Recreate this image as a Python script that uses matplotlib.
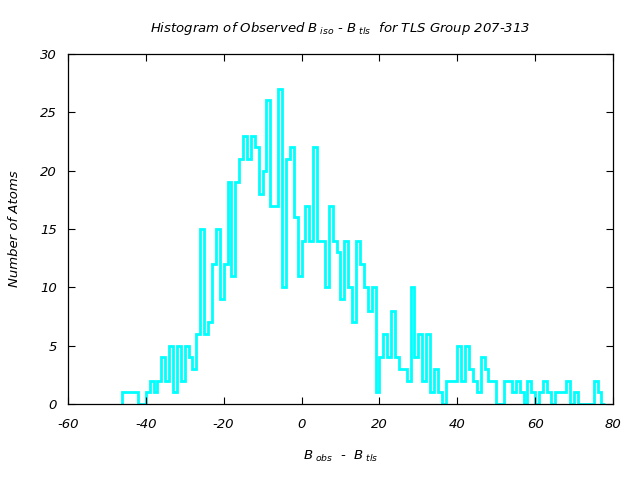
import numpy as np
import matplotlib
matplotlib.use("Agg")
import matplotlib.pyplot as plt

# histogram counts, one per 1-unit bin, left edges from -46 upward
bin_start = -46
counts = [1, 1, 1, 1, 0, 0, 1, 2, 1, 2, 4, 2, 5, 1, 5, 2, 5, 4, 3, 6,
          15, 6, 7, 12, 15, 9, 12, 19, 11, 19, 21, 23, 21, 23, 22, 18, 20, 26, 17, 17,
          27, 10, 21, 22, 16, 11, 14, 17, 14, 22, 14, 14, 10, 17, 14, 13, 9, 14, 10, 7,
          14, 12, 10, 8, 10, 1, 4, 6, 4, 8, 4, 3, 3, 2, 10, 4, 6, 2, 6, 1,
          3, 1, 0, 2, 2, 2, 5, 2, 5, 3, 2, 1, 4, 3, 2, 2, 0, 0, 2, 2,
          1, 2, 1, 0, 2, 1, 0, 1, 2, 1, 0, 1, 1, 1, 2, 0, 1, 0, 0, 0,
          0, 2, 1, 0]
x_ticks = [-60, -40, -20, 0, 20, 40, 60, 80]
y_ticks = [0, 5, 10, 15, 20, 25, 30]

plt.rcParams['axes.unicode_minus'] = False
plt.rcParams['font.family'] = 'DejaVu Sans'
plt.rcParams['font.style'] = 'italic'
plt.rcParams['mathtext.fontset'] = 'custom'
plt.rcParams['mathtext.it'] = 'DejaVu Sans:italic'
plt.rcParams['mathtext.rm'] = 'DejaVu Sans:italic'

edges = np.arange(bin_start, bin_start + len(counts) + 1)

fig = plt.figure(figsize=(6.4, 4.8), dpi=100)
ax = fig.add_axes([0.106, 0.158, 0.852, 0.730])

ax.stairs(counts, edges, baseline=0, color="#00ffff", linewidth=2.0)

ax.set_xlim(-60, 80)
ax.set_ylim(0, 30)
ax.set_xticks(x_ticks)
ax.set_yticks(y_ticks)
ax.tick_params(direction='in', top=True, right=True, length=5, width=0.8,
               labelsize=9.5)
ax.tick_params(axis='x', pad=10)
ax.tick_params(axis='y', pad=8)
for s in ax.spines.values():
    s.set_linewidth(0.9)

ax.set_title(r"Histogram of Observed $B_{\ iso}$ - $B_{\ tls}$  for TLS Group 207-313",
             fontsize=9.5, pad=16)
ax.set_xlabel(r"$B_{\ obs}$  -  $B_{\ tls}$", fontsize=9.5, labelpad=13)
ax.set_ylabel("Number of Atoms", fontsize=9.5, labelpad=14)

fig.savefig("out.png", dpi=100)
